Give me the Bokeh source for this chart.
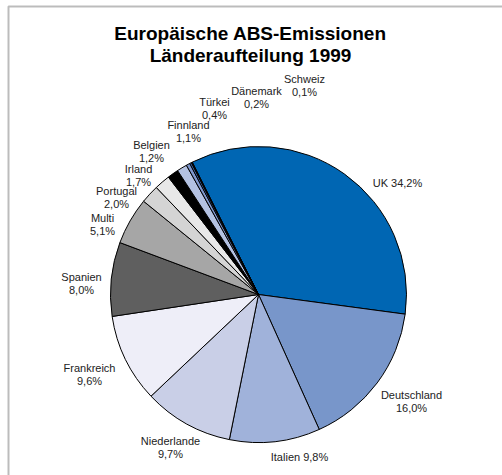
import math
from bokeh.plotting import figure
from bokeh.models import Range1d, BoxAnnotation, ColumnDataSource
from bokeh.core.properties import value
from bokeh.embed import file_html
from bokeh.resources import INLINE

# ---- data ----
countries = ["UK", "Deutschland", "Italien", "Niederlande", "Frankreich", "Spanien",
             "Multi", "Portugal", "Irland", "Belgien", "Finnland", "Türkei",
             "Dänemark", "Schweiz"]
shares = [34.2, 16.0, 9.8, 9.7, 9.6, 8.0, 5.1, 2.0, 1.7, 1.2, 1.1, 0.4, 0.2, 0.1]
label_texts = ["UK 34,2%", "Deutschland\n16,0%", "Italien 9,8%", "Niederlande\n9,7%",
               "Frankreich\n9,6%", "Spanien\n8,0%", "Multi\n5,1%", "Portugal\n2,0%",
               "Irland\n1,7%", "Belgien\n1,2%", "Finnland\n1,1%", "Türkei\n0,4%",
               "Dänemark\n0,2%", "Schweiz\n0,1%"]
title_lines = ["Europäische ABS-Emissionen", "Länderaufteilung 1999"]

# ---- styles / layout ----
colors = ["#0066B3", "#7896CA", "#A0B2DA", "#C9CFE7", "#EEEEF8", "#5F5F5F",
          "#A6A6A6", "#D4D4D4", "#E8E8E8", "#000000", "#B4C2E2", "#7F97CC",
          "#3E66A8", "#1A1A1A"]
W, H = 502, 475
cx, cy_px, R = 258.0, 294.0, 148.0
start_deg = 116.6
# label anchor positions in page pixels (x, y from top)
label_pos = [(397, 182), (411, 401), (299, 456), (170, 447), (89, 374), (81, 283),
             (102, 224), (116, 197), (138, 175), (151, 151), (188, 131), (214, 108),
             (256, 97), (304, 85)]

def py(y):
    return H - y

total = sum(shares)
starts, ends = [], []
cum = 0.0
for s in shares:
    a0 = math.radians(start_deg - cum / total * 360.0)
    cum += s
    a1 = math.radians(start_deg - cum / total * 360.0)
    starts.append(a1)
    ends.append(a0)

p = figure(width=W, height=H, x_range=Range1d(0, W), y_range=Range1d(0, H),
           output_backend="svg", toolbar_location=None, min_border=0)
p.axis.visible = False
p.grid.visible = False
p.outline_line_color = None
p.background_fill_color = "white"
p.border_fill_color = "white"

# frame (left and top edges visible)
p.add_layout(BoxAnnotation(left=8, right=W + 20, top=py(6), bottom=-20,
                           fill_alpha=0, line_color="#222222", line_width=2))

src = ColumnDataSource(dict(start=starts, end=ends, color=colors, name=countries))
p.wedge(x=cx, y=py(cy_px), radius=R, start_angle="start", end_angle="end",
        fill_color="color", line_color="black", line_width=1, source=src)

lsrc = ColumnDataSource(dict(x=[q[0] for q in label_pos], y=[py(q[1]) for q in label_pos],
                             text=label_texts))
p.text(x="x", y="y", text="text", source=lsrc, text_align="center",
       text_baseline="middle", text_font=value("Liberation Sans"),
       text_font_size="11px", text_color="#222222", text_line_height=1.15)

p.text(x=[250, 250], y=[py(33), py(55)], text=title_lines, text_align="center",
       text_baseline="middle", text_font=value("Liberation Sans"),
       text_font_size="19px", text_font_style="bold", text_color="black")

open("out.html", "w").write(file_html(p, INLINE))
